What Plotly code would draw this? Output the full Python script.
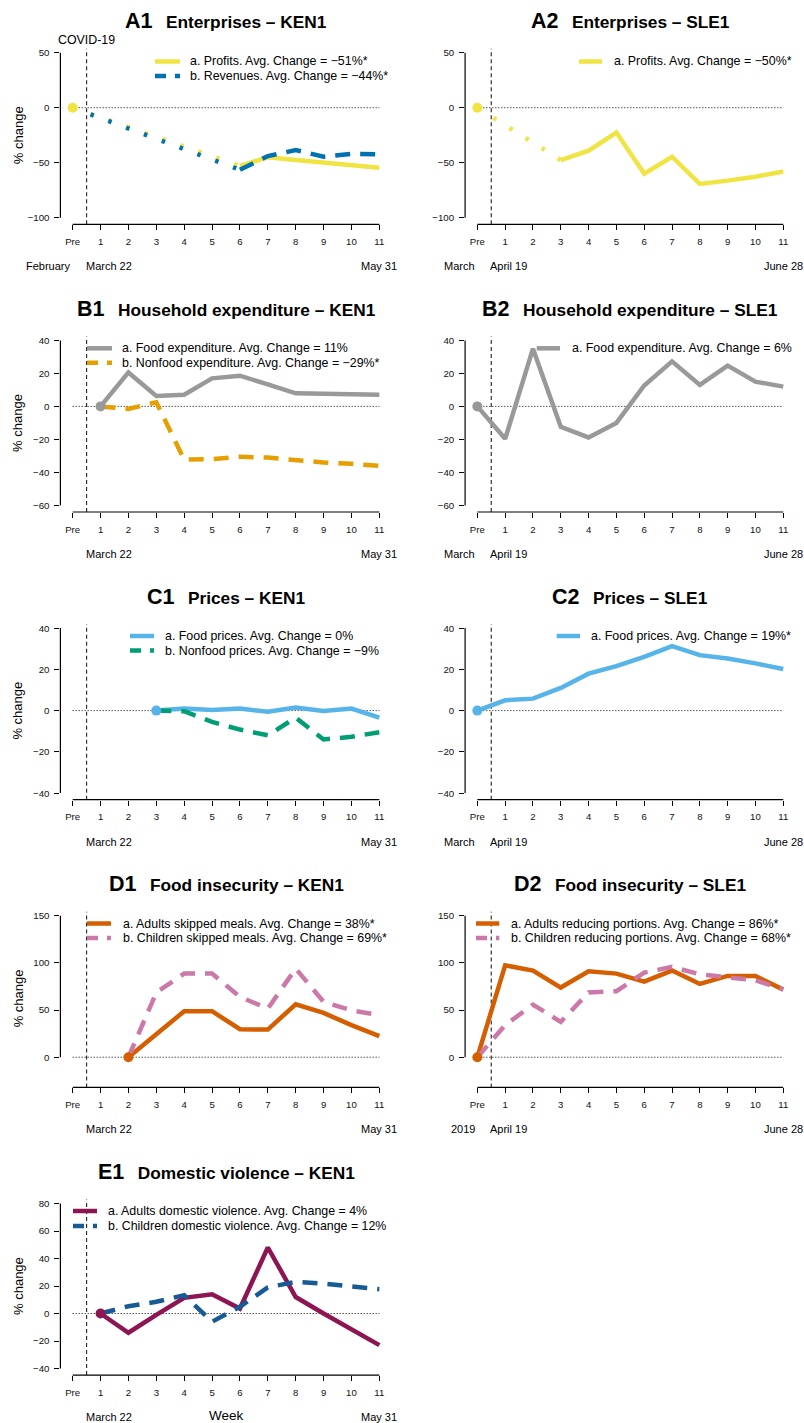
import plotly.graph_objects as go

W, H = 804, 1423
FONT = "Liberation Sans, Arial, Helvetica, sans-serif"

# ---------------- data ----------------
week_x = list(range(12))
week_labels = ["Pre", "1", "2", "3", "4", "5", "6", "7", "8", "9", "10", "11"]

a1_profits = [0, None, None, None, None, None, -53, -45, -47.5, -49.5, -52.5, -54.5]
a1_revenues = [0, None, None, None, None, None, -56.5, -44, -38.5, -44.5, -42, -42.5]
a2_profits = [0, None, None, -47.6, -39, -22.6, -60, -44.6, -69.3, -66.3, -62.7, -58]
b1_food = [None, 0, 20.6, 6.3, 7.1, 17, 18.6, 13.3, 7.9, 7.7, 7.4, 7.1]
b1_nonfood = [None, 0, -1.5, 2.5, -32.3, -32, -30.5, -31, -32.7, -34, -34.8, -36]
b2_food = [0, -19.6, 35, -12.4, -18.8, -10, 12.7, 27.3, 13, 24.7, 15, 12]
c1_food = [None, None, None, 0, 1, 0.3, 1, -0.6, 1.5, -0.2, 1, -3.4]
c1_nonfood = [None, None, None, 0, -0.3, -5.5, -9.2, -12, -3.4, -14, -12.7, -10.5]
c2_food = [0, 5, 5.8, 11, 17.9, 21.6, 26.1, 31.3, 26.9, 25.3, 22.9, 20.2]
d1_adults = [None, None, 0, 24.4, 48.8, 48.8, 29.7, 29.3, 56.2, 47, 34, 22.3]
d1_children = [None, None, 0, 68.6, 88.7, 88.7, 64, 51.6, 94, 58.7, 49.8, 44.5]
d2_adults = [0, 97.5, 91.9, 73.9, 91.2, 88.7, 80.2, 91.9, 77.7, 86.2, 86.2, 71.7]
d2_children = [0, 34, 55.8, 37.5, 68.6, 70, 89.8, 95.8, 88, 85.2, 81.6, 72]
e1_adults = [None, 0, -14, -1, 11.4, 14, 3.6, 48, 12, 0, -11.4, -23]
e1_children = [None, 0, 5.3, 8.5, 13.3, -6, 4.9, 19, 23, 21.8, 20, 17.7]

ylim_a, yticks_a = (-100, 50), [-100, -50, 0, 50]
ylim_b, yticks_b = (-60, 40), [-60, -40, -20, 0, 20, 40]
ylim_c, yticks_c = (-40, 40), [-40, -20, 0, 20, 40]
ylim_d, yticks_d = (-25, 150), [0, 50, 100, 150]
ylim_e, yticks_e = (-40, 80), [-40, -20, 0, 20, 40, 60, 80]

# ---------------- styles ----------------
YELLOW, BLUE, GREY, ORANGE = "#F0E442", "#0072B2", "#999999", "#E69F00"
SKY, GREEN, VERM, PINK = "#56B4E9", "#009E73", "#D55E00", "#CC79A7"
MAROON, DBLUE = "#8C1552", "#165A96"
LW = 4.5
DASH = "15px,10px"
DOT = "3.5px,15.5px"
LEG_DASH = "11px,9px"

panels = [
    dict(key="A1", title="Enterprises \u2013 KEN1", row=0, col=0, ylim=ylim_a, yticks=yticks_a,
         series=[("a. Profits. Avg. Change = \u221251%*", a1_profits, YELLOW, "solid"),
                 ("b. Revenues. Avg. Change = \u221244%*", a1_revenues, BLUE, DASH)],
         dates=("February", "March 22", "May 31"), covid=True,
         leg=(155, 180, 187.7, [61.5, 76])),
    dict(key="A2", title="Enterprises \u2013 SLE1", row=0, col=1, ylim=ylim_a, yticks=yticks_a,
         series=[("a. Profits. Avg. Change = \u221250%*", a2_profits, YELLOW, "solid")],
         dates=("March", "April 19", "June 28"),
         leg=(579, 602, 611.7, [61.5])),
    dict(key="B1", title="Household expenditure \u2013 KEN1", row=1, col=0, ylim=ylim_b, yticks=yticks_b,
         series=[("a. Food expenditure. Avg. Change = 11%", b1_food, GREY, "solid"),
                 ("b. Nonfood expenditure. Avg. Change = \u221229%*", b1_nonfood, ORANGE, DASH)],
         dates=(None, "March 22", "May 31"),
         leg=(87, 112, 120, [348.3, 362.7])),
    dict(key="B2", title="Household expenditure \u2013 SLE1", row=1, col=1, ylim=ylim_b, yticks=yticks_b,
         series=[("a. Food expenditure. Avg. Change = 6%", b2_food, GREY, "solid")],
         dates=("March", "April 19", "June 28"),
         leg=(536.7, 560, 570, [348.3])),
    dict(key="C1", title="Prices \u2013 KEN1", row=2, col=0, ylim=ylim_c, yticks=yticks_c,
         series=[("a. Food prices. Avg. Change = 0%", c1_food, SKY, "solid"),
                 ("b. Nonfood prices. Avg. Change = \u22129%", c1_nonfood, GREEN, DASH)],
         dates=(None, "March 22", "May 31"),
         leg=(130, 154, 163.3, [636, 650.5])),
    dict(key="C2", title="Prices \u2013 SLE1", row=2, col=1, ylim=ylim_c, yticks=yticks_c,
         series=[("a. Food prices. Avg. Change = 19%*", c2_food, SKY, "solid")],
         dates=("March", "April 19", "June 28"),
         leg=(556.7, 580, 589.3, [636])),
    dict(key="D1", title="Food insecurity \u2013 KEN1", row=3, col=0, ylim=ylim_d, yticks=yticks_d,
         series=[("a. Adults skipped meals. Avg. Change = 38%*", d1_adults, VERM, "solid"),
                 ("b. Children skipped meals. Avg. Change = 69%*", d1_children, PINK, DASH)],
         dates=(None, "March 22", "May 31"),
         leg=(87, 111, 120.7, [923.5, 938])),
    dict(key="D2", title="Food insecurity \u2013 SLE1", row=3, col=1, ylim=ylim_d, yticks=yticks_d,
         series=[("a. Adults reducing portions. Avg. Change = 86%*", d2_adults, VERM, "solid"),
                 ("b. Children reducing portions. Avg. Change = 68%*", d2_children, PINK, DASH)],
         dates=("2019", "April 19", "June 28"),
         leg=(476, 499.3, 509.3, [923.5, 938])),
    dict(key="E1", title="Domestic violence \u2013 KEN1", row=4, col=0, ylim=ylim_e, yticks=yticks_e,
         series=[("a. Adults domestic violence. Avg. Change = 4%", e1_adults, MAROON, "solid"),
                 ("b. Children domestic violence. Avg. Change = 12%", e1_children, DBLUE, DASH)],
         dates=(None, "March 22", "May 31"), week=True,
         leg=(73, 97, 106, [1211, 1226])),
]

ROW_TOP0, ROW_STEP, REGION_H = 46.1, 287.7, 178.2
COLS = [(60.4, 391.6), (465.1, 795.5)]
XR = [-0.44, 11.44]


def pxx(v):
    return v / W


def pxy(v):
    return 1 - v / H


fig = go.Figure()
axes = {}
shapes = []
annotations = []

for i, p in enumerate(panels, start=1):
    sfx = "" if i == 1 else str(i)
    xa, ya = "x" + sfx, "y" + sfx
    left, right = COLS[p["col"]]
    top = ROW_TOP0 + ROW_STEP * p["row"]
    bottom = top + REGION_H
    lo, hi = p["ylim"]
    pad = 0.04 * (hi - lo)

    axes["xaxis" + sfx] = dict(
        domain=[pxx(left), pxx(right)], range=XR, anchor=ya,
        tickmode="array", tickvals=week_x, ticktext=week_labels,
        ticks="outside", ticklen=5, tickwidth=1, tickcolor="black",
        showgrid=False, zeroline=False, showline=False,
        tickfont=dict(size=9.6, color="#111111", family=FONT),
        ticklabelstandoff=3, fixedrange=True)
    axes["yaxis" + sfx] = dict(
        domain=[pxy(bottom), pxy(top)], range=[lo - pad, hi + pad], anchor=xa,
        tickmode="array", tickvals=p["yticks"],
        ticks="outside", ticklen=5, tickwidth=1, tickcolor="black",
        showgrid=False, zeroline=False, showline=False,
        tickfont=dict(size=9.7, color="#111111", family=FONT),
        ticklabelstandoff=3, fixedrange=True)

    # axis lines (R style: from first to last tick)
    shapes.append(dict(type="line", xref=xa, yref=ya + " domain", x0=week_x[0], x1=week_x[-1],
                       y0=0, y1=0, line=dict(color="black", width=1.2)))
    shapes.append(dict(type="line", xref=xa + " domain", yref=ya, x0=0, x1=0,
                       y0=min(p["yticks"]), y1=max(p["yticks"]), line=dict(color="black", width=1.2)))
    # zero reference line
    shapes.append(dict(type="line", xref=xa, yref=ya, x0=week_x[0], x1=week_x[-1], y0=0, y1=0,
                       line=dict(color="black", width=1, dash="1px,2px"), layer="below"))
    # covid start
    shapes.append(dict(type="line", xref=xa, yref=ya + " domain", x0=0.5, x1=0.5, y0=0, y1=0.985,
                       line=dict(color="#222222", width=1.1, dash="4px,3px"), layer="below"))

    # series
    for name, vals, color, dash in p["series"]:
        obs = [(w, v) for w, v in zip(week_x, vals) if v is not None]
        lx, ly, gx, gy = [], [], [], []
        for k, (w, v) in enumerate(obs):
            if k > 0:
                pw, pv = obs[k - 1]
                if w - pw > 1:
                    gx += [pw, w, None]
                    gy += [pv, v, None]
                    lx.append(None)
                    ly.append(None)
            lx.append(w)
            ly.append(v)
        if gx:
            fig.add_trace(go.Scatter(x=gx, y=gy, xaxis=xa, yaxis=ya, mode="lines",
                                     line=dict(color=color, width=LW, dash=DOT),
                                     showlegend=False, hoverinfo="skip"))
        fig.add_trace(go.Scatter(x=lx, y=ly, xaxis=xa, yaxis=ya, mode="lines", connectgaps=False,
                                 line=dict(color=color, width=LW, dash=dash),
                                 name=name, showlegend=False))
    # start marker
    name0, vals0, color0, _ = p["series"][0]
    w0 = next(w for w, v in zip(week_x, vals0) if v is not None)
    fig.add_trace(go.Scatter(x=[w0], y=[vals0[w0]], xaxis=xa, yaxis=ya, mode="markers",
                             marker=dict(color=color0, size=10), showlegend=False, hoverinfo="skip"))

    # title
    annotations.append(dict(
        xref="paper", yref="paper", x=pxx((left + right) / 2), y=pxy(top - 25),
        xanchor="center", yanchor="middle", showarrow=False,
        text="<b><span style='font-size:21.5px'>%s</span>\u2002 %s</b>" % (p["key"], p["title"]),
        font=dict(size=17.3, color="black", family=FONT)))

    # legend
    sx0, sx1, tx, rows = p["leg"]
    for (name, vals, color, dash), ry in zip(p["series"], rows):
        shapes.append(dict(type="line", xref="paper", yref="paper", x0=pxx(sx0), x1=pxx(sx1),
                           y0=pxy(ry), y1=pxy(ry),
                           line=dict(color=color, width=LW, dash="solid" if dash == "solid" else LEG_DASH)))
        annotations.append(dict(xref="paper", yref="paper", x=pxx(tx), y=pxy(ry),
                                xanchor="left", yanchor="middle", showarrow=False, text=name,
                                font=dict(size=12.4, color="black", family=FONT)))

    # date labels under axis
    dl, dm, dr = p["dates"]
    dy = pxy(bottom + 42)
    if dl:
        annotations.append(dict(xref=xa, yref="paper", x=0, y=dy, xanchor="right", yanchor="middle",
                                showarrow=False, text=dl, font=dict(size=11, color="black", family=FONT)))
    annotations.append(dict(xref=xa, yref="paper", x=0.4, y=dy, xanchor="left", yanchor="middle",
                            showarrow=False, text=dm, font=dict(size=11, color="black", family=FONT)))
    annotations.append(dict(xref=xa, yref="paper", x=11, y=dy, xanchor="center", yanchor="middle",
                            showarrow=False, text=dr, font=dict(size=11, color="black", family=FONT)))

    if p["col"] == 0:
        annotations.append(dict(xref="paper", yref="paper", x=pxx(18), y=pxy((top + bottom) / 2),
                                xanchor="center", yanchor="middle", textangle=-90, showarrow=False,
                                text="% change", font=dict(size=13, color="black", family=FONT)))
    if p.get("covid"):
        annotations.append(dict(xref=xa, yref="paper", x=0.5, y=pxy(top - 6.5),
                                xanchor="center", yanchor="middle", showarrow=False,
                                text="COVID-19", font=dict(size=12.4, color="black", family=FONT)))
    if p.get("week"):
        annotations.append(dict(xref="paper", yref="paper", x=pxx((left + right) / 2), y=pxy(bottom + 40),
                                xanchor="center", yanchor="middle", showarrow=False,
                                text="Week", font=dict(size=13.5, color="black", family=FONT)))

fig.update_layout(
    width=W, height=H, margin=dict(l=0, r=0, t=0, b=0),
    paper_bgcolor="white", plot_bgcolor="white",
    font=dict(family=FONT, color="black"),
    showlegend=False, shapes=shapes, annotations=annotations, **axes)

# remove the default 8px page margin so the 804x1423 figure fills the window exactly
fig.write_html("out.html", config={"displayModeBar": False},
               post_script="document.body.style.margin='0';document.body.style.overflow='hidden';")
